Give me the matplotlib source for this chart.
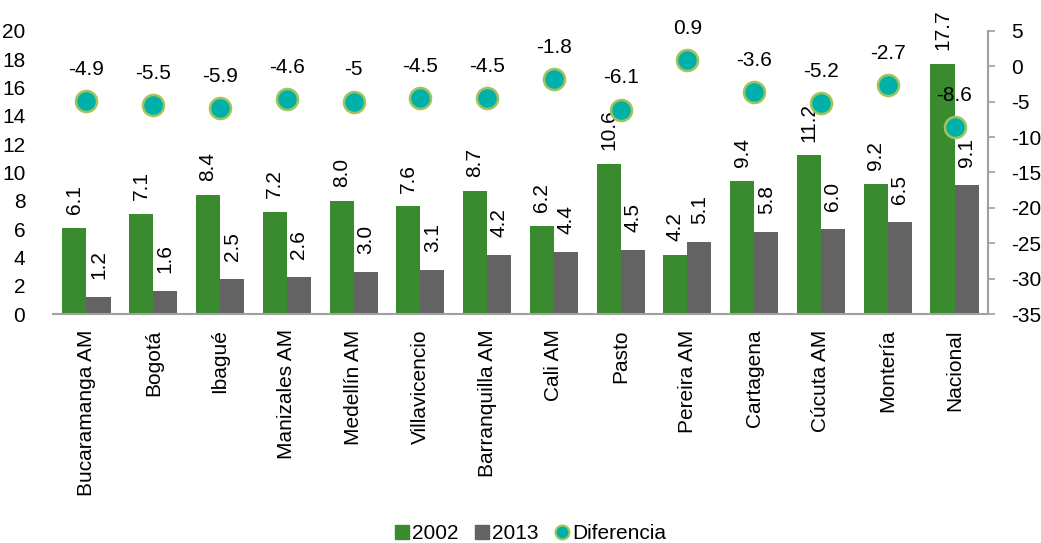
import matplotlib
matplotlib.use("Agg")
import matplotlib.pyplot as plt
import numpy as np
from matplotlib.lines import Line2D

categories = ["Bucaramanga AM", "Bogotá", "Ibagué", "Manizales AM", "Medellín AM",
              "Villavicencio", "Barranquilla AM", "Cali AM", "Pasto", "Pereira AM",
              "Cartagena", "Cúcuta AM", "Montería", "Nacional"]
v2002 = [6.1, 7.1, 8.4, 7.2, 8.0, 7.6, 8.7, 6.2, 10.6, 4.2, 9.4, 11.2, 9.2, 17.7]
v2013 = [1.2, 1.6, 2.5, 2.6, 3.0, 3.1, 4.2, 4.4, 4.5, 5.1, 5.8, 6.0, 6.5, 9.1]
diferencia = [-4.9, -5.5, -5.9, -4.6, -5, -4.5, -4.5, -1.8, -6.1, 0.9, -3.6, -5.2, -2.7, -8.6]
left_ticks = [0, 2, 4, 6, 8, 10, 12, 14, 16, 18, 20]
right_ticks = [-35, -30, -25, -20, -15, -10, -5, 0, 5]

plt.rcParams['font.family'] = ['Liberation Sans', 'DejaVu Sans']
FS = 15
c_green = "#3A8B30"
c_gray = "#636363"
c_teal = "#00B1A9"
c_edge = "#A3C45B"

fig = plt.figure(figsize=(10.41, 5.43), dpi=100)
ax = fig.add_axes([0.051, 0.4217, 0.898, 0.5213])
ax2 = ax.twinx()

x = np.arange(len(categories))
w = 0.36
ax.bar(x - w / 2, v2002, w, color=c_green, zorder=2)
ax.bar(x + w / 2, v2013, w, color=c_gray, zorder=2)
ax.set_xlim(-0.5, len(categories) - 0.5)
ax.set_ylim(0, 20)
ax.set_yticks(left_ticks)
ax.set_yticklabels([str(t) for t in left_ticks], fontsize=FS)
ax.tick_params(axis='y', length=0, pad=20)
ax.set_xticks(x)
ax.set_xticklabels(categories, rotation=90, fontsize=FS)
ax.tick_params(axis='x', length=0, pad=11)
for s in ['left', 'top', 'right']:
    ax.spines[s].set_visible(False)
ax.spines['bottom'].set_color("#A0A0A0")
ax.spines['bottom'].set_linewidth(1.5)

for xi, v in zip(x, v2002):
    ax.annotate(f"{v:.1f}", (xi - w / 2, v), xytext=(0, 10), textcoords='offset points',
                rotation=90, ha='center', va='bottom', fontsize=FS, annotation_clip=False)
for xi, v in zip(x, v2013):
    ax.annotate(f"{v:.1f}", (xi + w / 2, v), xytext=(0, 13), textcoords='offset points',
                rotation=90, ha='center', va='bottom', fontsize=FS, annotation_clip=False)

ax2.scatter(x, diferencia, s=230, color=c_teal, edgecolors=c_edge, linewidths=1.8, zorder=5)
for xi, d in zip(x, diferencia):
    ax2.annotate(f"{d:g}", (xi, d), xytext=(0, 16), textcoords='offset points',
                 ha='center', va='bottom', fontsize=FS)
ax2.set_ylim(-35, 5)
ax2.set_yticks(right_ticks)
ax2.set_yticklabels([str(t) for t in right_ticks], fontsize=FS)
ax2.tick_params(axis='y', length=5, width=1.2, color="#A0A0A0", pad=12)
for s in ['left', 'top', 'bottom']:
    ax2.spines[s].set_visible(False)
ax2.spines['right'].set_color("#A0A0A0")
ax2.spines['right'].set_linewidth(1.5)

handles = [Line2D([], [], marker='s', linestyle='none', color=c_green, markersize=10),
           Line2D([], [], marker='s', linestyle='none', color=c_gray, markersize=10),
           Line2D([], [], marker='o', linestyle='none', markerfacecolor=c_teal,
                  markeredgecolor=c_edge, markeredgewidth=1.5, markersize=10)]
fig.legend(handles, ["2002", "2013", "Diferencia"], loc='center', bbox_to_anchor=(0.508, 0.017),
           ncol=3, frameon=False, fontsize=FS, handletextpad=0.0, columnspacing=0.6,
           handlelength=1.0)

fig.savefig("out.png", dpi=100)
